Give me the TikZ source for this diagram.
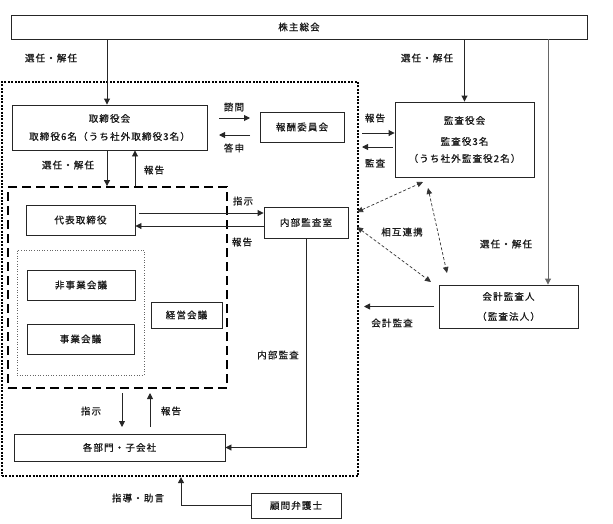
\documentclass[tikz,border=0pt]{standalone}
\usepackage{fontspec}
\setmainfont{Noto Sans CJK JP}[LetterSpace=12, FakeBold=0.8]
\usetikzlibrary{arrows.meta,calc}
\begin{document}
\begin{tikzpicture}[x=1pt,y=-1pt,
  every node/.style={font=\fontsize{9.5}{12}\selectfont, text=black!90},
  box/.style={draw=black!85, line width=0.9pt, inner sep=0pt, fill=white, align=center},
  lbl/.style={inner sep=0pt},
  arr/.style={draw=black!85, line width=0.9pt, -{Triangle[length=6pt,width=6pt]}},
  mutual/.style={draw=black!80, line width=0.7pt, dash pattern=on 3pt off 2pt,
     {Triangle[length=6pt,width=5.5pt]}-{Triangle[length=6pt,width=5.5pt]}},
  outerbox/.style={draw=black, line width=2.2pt, dash pattern=on 2pt off 1.4pt, inner sep=0pt},
  dashbox/.style={draw=black, line width=1.8pt, dash pattern=on 9pt off 5pt, inner sep=0pt},
  finebox/.style={draw=black!60, line width=0.6pt, dotted, inner sep=0pt}
]
\useasboundingbox (0,0) rectangle (613,523);

% group frames
\node[outerbox, minimum width=356pt, minimum height=394pt] (outer) at (180,279) {};
\node[dashbox, minimum width=219pt, minimum height=201pt] (dbox) at (117.5,287.5) {};
\node[finebox, minimum width=127pt, minimum height=125pt] (fbox) at (80.5,312.5) {};

% boxes
\node[box, minimum width=576pt, minimum height=24pt] (kabu) at (299,27) {株主総会};
\node[box, minimum width=195pt, minimum height=45pt] (tori) at (109.5,127.5) {取締役会\\[6pt]取締役6名（うち社外取締役3名）};
\node[box, minimum width=84pt, minimum height=30pt] (hoshu) at (302,127) {報酬委員会};
\node[box, minimum width=139pt, minimum height=75pt] (kansa) at (464.5,139.5) {監査役会\\[9pt]監査役3名\\[5pt]（うち社外監査役2名）};
\node[box, minimum width=109pt, minimum height=30pt] (daihyo) at (80.5,220) {代表取締役};
\node[box, minimum width=84pt, minimum height=31pt] (naibu) at (306,222.5) {内部監査室};
\node[box, minimum width=108pt, minimum height=30pt] (hiji) at (81,285) {非事業会議};
\node[box, minimum width=71pt, minimum height=26pt] (keiei) at (186.5,315) {経営会議};
\node[box, minimum width=107pt, minimum height=30pt] (jigyo) at (80.5,339) {事業会議};
\node[box, minimum width=211pt, minimum height=27pt] (kakubu) at (119.5,447.5) {各部門・子会社};
\node[box, minimum width=139pt, minimum height=43pt] (kaikei) at (508.5,306.5) {会計監査人\\[8pt]（監査法人）};
\node[box, minimum width=90pt, minimum height=25pt] (komon) at (296,505.5) {顧問弁護士};

% helper coordinates
\coordinate (kx) at (548,0);
\coordinate (dn) at (107,0);
\coordinate (up) at (135,0);
\coordinate (s1) at (219,118);
\coordinate (s2) at (250,118);
\coordinate (t1) at (250,135);
\coordinate (t2) at (219,135);
\coordinate (r1) at (362,133);
\coordinate (m1) at (362,147);
\coordinate (i1) at (139,213);
\coordinate (h1) at (0,226);
\coordinate (p1) at (122,393);
\coordinate (p2) at (122,427);
\coordinate (q1) at (150,427);
\coordinate (q2) at (150,393);
\coordinate (a0) at (434,0);
\coordinate (a1) at (364,0);
\coordinate (b1) at (181,0);
\coordinate (x1) at (357,212);
\coordinate (x2) at (423,182);
\coordinate (y1) at (357,227);
\coordinate (y2) at (431,282);
\coordinate (z1) at (428,188);
\coordinate (z2) at (447,273);

% connectors
\draw[arr] (kabu.south -| dn) -- (tori.north -| dn);
\draw[arr] (kabu.south -| kansa.north) -- (kansa.north);
\draw[arr, draw=black!60] (kabu.south -| kx) -- (kaikei.north -| kx);
\draw[arr] (tori.south -| dn) -- (dbox.north -| dn);
\draw[arr] (dbox.north -| up) -- (tori.south -| up);
\draw[arr] (s1) -- (s2);
\draw[arr] (t1) -- (t2);
\draw[arr] (r1) -- (kansa.west |- r1);
\draw[arr] ([xshift=-2pt]kansa.west |- m1) -- (m1);
\draw[arr] (i1) -- (naibu.west |- i1);
\draw[arr] (naibu.west |- h1) -- (daihyo.east |- h1);
\draw[arr] (naibu.south) |- (kakubu.east);
\draw[arr] (p1) -- (p2);
\draw[arr] (q1) -- (q2);
\draw[arr] (a0 |- kaikei.west) -- (a1 |- kaikei.west);
\draw[arr] (komon.west) -| (outer.south -| b1);
\draw[mutual] (x1) -- (x2);
\draw[mutual] (y1) -- (y2);
\draw[mutual] (z1) -- (z2);

% labels
\node[lbl] (l1) at (51,58) {選任・解任};
\node[lbl] (l2) at (427,58) {選任・解任};
\node[lbl] (l3) at (68,165) {選任・解任};
\node[lbl] (l4) at (506,244) {選任・解任};
\node[lbl] (l5) at (234,107) {諮問};
\node[lbl] (l6) at (234,148) {答申};
\node[lbl] (l7) at (375,118) {報告};
\node[lbl] (l8) at (375,163) {監査};
\node[lbl] (l9) at (154,170) {報告};
\node[lbl] (l10) at (243,201) {指示};
\node[lbl] (l11) at (242,242) {報告};
\node[lbl] (l12) at (402,232) {相互連携};
\node[lbl] (l13) at (392,323) {会計監査};
\node[lbl] (l14) at (278,355) {内部監査};
\node[lbl] (l15) at (91,411) {指示};
\node[lbl] (l16) at (171,411) {報告};
\node[lbl] (l17) at (138,498) {指導・助言};
\end{tikzpicture}
\end{document}
